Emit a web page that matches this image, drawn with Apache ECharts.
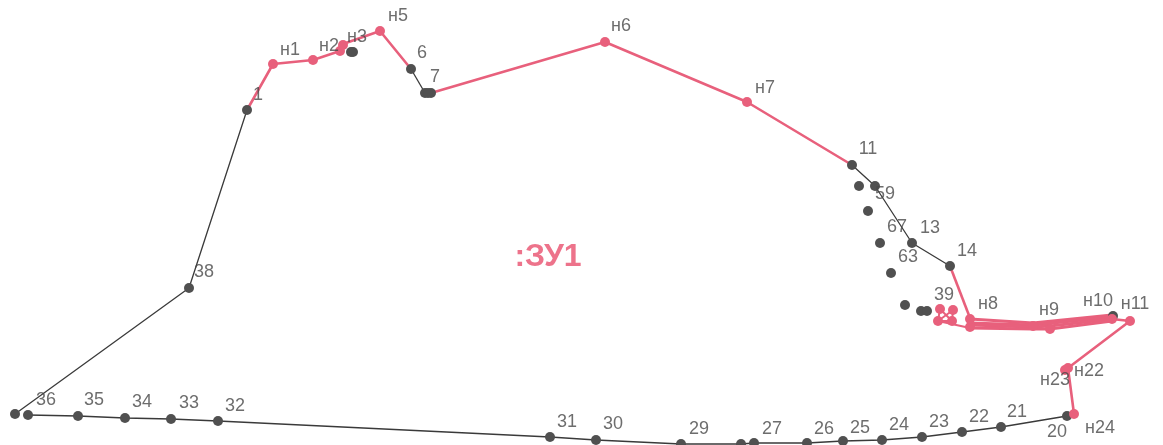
<!DOCTYPE html>
<html><head><meta charset="utf-8">
<style>html,body{margin:0;padding:0;background:#fff}#c{width:1163px;height:445px}</style>
<script src="https://cdn.jsdelivr.net/npm/echarts@6/dist/echarts.min.js"></script>
</head><body><div id="c"></div>
<script>
// Boundary traced from the plan, in plan units (x east, y down)
const blackLines = [
  [[247,110],[189,288],[15,414]],
  [[28,415],[78,416],[125,418],[171,419],[218,421],[550,437],[596,440],[681,444],[741,444],[754,443],[807,443],[843,441],[882,440],[922,437],[962,432],[1001,427],[1067,416]],
  [[411,69],[425,93]],
  [[852,165],[875,186],[912,243],[950,266]]
];
const redLines = [
  [[247,110],[273,64],[313,60],[340,51],[343,44],[380,31],[411,69]],
  [[431,93],[605,42],[747,102],[852,165]],
  [[950,266],[970,318]],
  [[1112,319],[1130,321],[1068,368],[1074,414]]
];
const bundleLines = [
  [[970,319],[1033,323],[1112,315]],
  [[970,323],[1033,325],[1112,317]],
  [[970,325],[1033,327],[1050,326],[1112,319]],
  [[970,328],[1033,329],[1050,329],[1112,321]]
];
const clusterLines = [
  [[938,321],[970,328]],
  [[938,321],[952,321]],
  [[940,309],[952,321]],
  [[953,310],[938,321]],
  [[940,309],[938,321]],
  [[953,310],[952,321]]
];
const blackPoints = [[247,110],[189,288],[15,414],[28,415],[78,416],[125,418],[171,419],[218,421],[550,437],[596,440],[681,444],[741,444],[754,443],[807,443],[843,441],[882,440],[922,437],[962,432],[1001,427],[1067,416],[411,69],[425,93],[431,93],[428,93],[852,165],[875,186],[912,243],[950,266],[859,186],[868,211],[880,243],[891,273],[905,305],[921,311],[927,311],[353,52],[351,52],[1113,316]];
const redPoints = [[273,64],[313,60],[340,51],[343,45],[380,31],[605,42],[747,102],[1130,321],[1068,368],[1074,414],[940,309],[953,310],[938,321],[952,321],[970,327],[970,319],[1033,326],[1050,329],[1112,319],[1065,370]];
const labels = [
  ["1",258,95],["н1",290,50],["н2",329,46],["н3",357,37],["н5",398,16],["6",422,53],["7",435,77],
  ["н6",621,26],["н7",765,88],["11",868,149],["59",885,194],["67",897,227],["13",930,228],["14",967,251],
  ["63",908,257],["39",944,295],["н8",988,304],["н9",1049,310],["н10",1098,301],["н11",1135,304],
  ["н22",1089,371],["н23",1055,380],["н24",1100,428],["20",1057,432],["21",1017,412],["22",979,417],
  ["23",939,422],["24",899,425],["25",860,428],["26",824,429],["27",772,429],["29",699,429],["30",613,424],
  ["31",567,422],["32",235,406],["33",189,403],["34",142,402],["35",94,400],["36",46,400],["38",204,272]
];
const title = [":ЗУ1",548,257];

const RED="#e8607c";
const lineSeries=(pts,color,w,z)=>({type:'line',data:pts,symbol:'none',silent:true,z,
  lineStyle:{color,width:w},clip:false,animation:false});
const chart=echarts.init(document.getElementById('c'),null,{renderer:'canvas'});
chart.setOption({
  animation:false,
  grid:{left:0,right:0,top:0,bottom:0},
  xAxis:{type:'value',min:0,max:1163,show:false},
  yAxis:{type:'value',min:0,max:445,inverse:true,show:false},
  series:[
    ...blackLines.map(p=>lineSeries(p,"#3a3a3a",1.3,2)),
    ...redLines.map(p=>lineSeries(p,RED,2.6,3)),
    ...bundleLines.map(p=>lineSeries(p,RED,3.2,3)),
    ...clusterLines.map(p=>lineSeries(p,RED,2,3)),
    {type:'scatter',data:blackPoints,symbolSize:10,itemStyle:{color:'#505050',opacity:1},z:4,silent:true},
    {type:'scatter',data:redPoints,symbolSize:10,itemStyle:{color:RED,opacity:1},z:5,silent:true},
    {type:'scatter',data:labels.map(l=>({value:[l[1],l[2]],name:l[0]})),symbolSize:0,z:6,silent:true,
      label:{show:true,position:'inside',formatter:p=>p.name,color:'#484848',fontSize:18,fontFamily:'Liberation Sans'}},
    {type:'scatter',data:[{value:[title[1],title[2]],name:title[0]}],symbolSize:0,z:6,silent:true,
      label:{show:true,position:'inside',formatter:p=>p.name,color:'#e8506e',fontSize:32,fontWeight:'bold',fontFamily:'Liberation Sans'}}
  ]
});
</script></body></html>
